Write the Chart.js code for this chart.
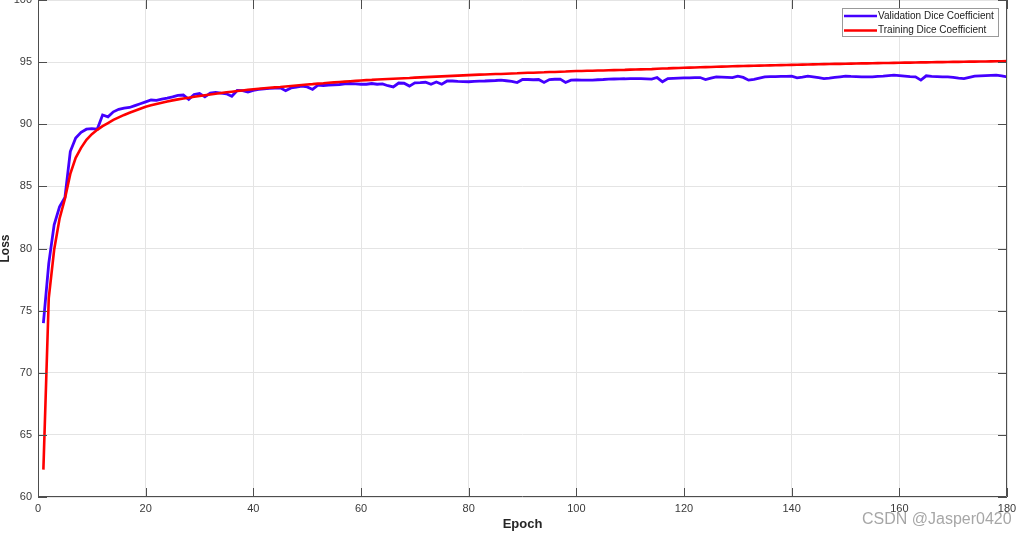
<!DOCTYPE html>
<html>
<head>
<meta charset="utf-8">
<title>Dice Coefficient</title>
<script src="https://cdn.jsdelivr.net/npm/chart.js@4.4.1/dist/chart.umd.min.js"></script>
<style>
  html, body { margin: 0; padding: 0; background: #fff; }
  #wrap { width: 1024px; height: 535px; }
</style>
</head>
<body>
<div id="wrap"><canvas id="diceChart" width="1024" height="535"></canvas></div>
<script>
// Epochs 1..180
const epochs = Array.from({ length: 180 }, (_, i) => i + 1);

// Validation Dice Coefficient (blue)
const validationDice = [
  74.0, 78.8, 81.9, 83.35, 84.1, 87.8, 88.9, 89.35, 89.6, 89.65,
  89.6, 90.75, 90.6, 91.0, 91.2, 91.3, 91.35, 91.5, 91.65, 91.8,
  91.95, 91.92, 92.02, 92.1, 92.2, 92.32, 92.35, 92.0, 92.4, 92.48,
  92.2, 92.5, 92.56, 92.5, 92.45, 92.25, 92.72, 92.7, 92.6, 92.72,
  92.8, 92.85, 92.88, 92.9, 92.93, 92.7, 92.92, 92.98, 93.07, 93.0,
  92.8, 93.15, 93.12, 93.15, 93.18, 93.2, 93.25, 93.28, 93.25, 93.22,
  93.22, 93.28, 93.22, 93.25, 93.1, 93.0, 93.32, 93.3, 93.07, 93.33,
  93.35, 93.38, 93.22, 93.4, 93.22, 93.48, 93.48, 93.45, 93.43, 93.42,
  93.45, 93.47, 93.48, 93.5, 93.52, 93.55, 93.5, 93.45, 93.36, 93.6,
  93.6, 93.58, 93.6, 93.36, 93.6, 93.62, 93.63, 93.36, 93.55, 93.56,
  93.55, 93.55, 93.55, 93.58, 93.6, 93.63, 93.64, 93.65, 93.66, 93.68,
  93.68, 93.67, 93.65, 93.63, 93.76, 93.42, 93.68, 93.7, 93.72, 93.73,
  93.74, 93.75, 93.76, 93.6, 93.72, 93.81, 93.8, 93.78, 93.76, 93.87,
  93.77, 93.55, 93.62, 93.72, 93.81, 93.83, 93.84, 93.85, 93.86, 93.87,
  93.74, 93.8, 93.87, 93.82, 93.75, 93.68, 93.72, 93.77, 93.82, 93.87,
  93.85, 93.84, 93.82, 93.81, 93.81, 93.85, 93.88, 93.92, 93.95, 93.92,
  93.88, 93.84, 93.81, 93.55, 93.9, 93.86, 93.84, 93.82, 93.81, 93.78,
  93.72, 93.68, 93.78, 93.87, 93.9, 93.92, 93.94, 93.95, 93.9, 93.81
];

// Training Dice Coefficient (red)
const trainingDice = [
  62.2, 76.0, 79.9, 82.4, 84.0, 86.0, 87.3, 88.1, 88.75, 89.2,
  89.55, 89.85, 90.1, 90.35, 90.55, 90.75, 90.92, 91.08, 91.25, 91.4,
  91.52, 91.63, 91.73, 91.83, 91.92, 92.0, 92.07, 92.14, 92.21, 92.28,
  92.34, 92.4, 92.46, 92.52, 92.57, 92.62, 92.67, 92.72, 92.77, 92.82,
  92.86, 92.9, 92.94, 92.97, 93.0, 93.04, 93.08, 93.12, 93.16, 93.2,
  93.23, 93.27, 93.3, 93.34, 93.37, 93.4, 93.43, 93.46, 93.49, 93.52,
  93.55, 93.57, 93.6, 93.62, 93.64, 93.66, 93.68, 93.7, 93.72, 93.75,
  93.77, 93.79, 93.81, 93.83, 93.85, 93.87, 93.89, 93.91, 93.93, 93.95,
  93.97, 93.99, 94.0, 94.02, 94.04, 94.05, 94.07, 94.09, 94.1, 94.12,
  94.14, 94.15, 94.17, 94.18, 94.2, 94.21, 94.23, 94.24, 94.26, 94.28,
  94.29, 94.3, 94.31, 94.32, 94.33, 94.35, 94.36, 94.37, 94.38, 94.4,
  94.41, 94.42, 94.43, 94.44, 94.47, 94.49, 94.5, 94.52, 94.53, 94.55,
  94.56, 94.57, 94.59, 94.6, 94.61, 94.63, 94.64, 94.65, 94.67, 94.68,
  94.69, 94.7, 94.71, 94.72, 94.73, 94.74, 94.75, 94.76, 94.77, 94.78,
  94.79, 94.8, 94.81, 94.82, 94.83, 94.84, 94.85, 94.86, 94.86, 94.87,
  94.88, 94.89, 94.9, 94.9, 94.91, 94.92, 94.93, 94.93, 94.94, 94.95,
  94.96, 94.96, 94.97, 94.98, 94.98, 94.99, 95.0, 95.0, 95.01, 95.02,
  95.02, 95.03, 95.04, 95.04, 95.05, 95.05, 95.06, 95.07, 95.07, 95.08
];

const seriesLabels = ['Validation Dice Coefficient', 'Training Dice Coefficient'];
const seriesColors = ['#4400ff', '#ff0000'];

const xTicks = [0, 20, 40, 60, 80, 100, 120, 140, 160, 180];
const yTicks = [60, 65, 70, 75, 80, 85, 90, 95, 100];

const axisColor = '#4d4d4d';
const gridColor = '#e4e4e4';
const textColor = '#3a3a3a';

// matlab style axes (left, bottom, right) with inward ticks
const boxPlugin = {
  id: 'matlabBox',
  afterDatasetsDraw(chart) {
    const { ctx, chartArea: a, scales } = chart;
    const len = 9;
    const l = a.left + 0.5, r = a.right - 0.5, b = a.bottom - 0.5;
    ctx.save();
    ctx.strokeStyle = axisColor;
    ctx.lineWidth = 1;
    ctx.beginPath();
    ctx.moveTo(l, a.top);
    ctx.lineTo(l, b);
    ctx.lineTo(r, b);
    ctx.lineTo(r, a.top);
    xTicks.forEach(v => {
      const x = Math.round(scales.x.getPixelForValue(v)) + 0.5;
      ctx.moveTo(x, a.bottom);
      ctx.lineTo(x, a.bottom - len);
      ctx.moveTo(x, a.top);
      ctx.lineTo(x, a.top + len);
    });
    yTicks.forEach(v => {
      const y = Math.round(scales.y.getPixelForValue(v)) + 0.5;
      ctx.moveTo(a.left, y);
      ctx.lineTo(a.left + len, y);
      ctx.moveTo(a.right, y);
      ctx.lineTo(a.right - len, y);
    });
    ctx.stroke();
    ctx.restore();
  },
  afterDraw(chart) {
    const { ctx } = chart;
    ctx.save();
    // legend box
    const bx = 842.5, by = 8.5, bw = 156, bh = 28;
    ctx.fillStyle = '#fff';
    ctx.fillRect(bx, by, bw, bh);
    ctx.strokeStyle = '#9a9a9a';
    ctx.lineWidth = 1;
    ctx.strokeRect(bx, by, bw, bh);
    ctx.font = '10px "Liberation Sans", Arial, sans-serif';
    ctx.textBaseline = 'middle';
    chart.data.datasets.forEach((ds, i) => {
      const y = 16 + i * 14.5;
      ctx.strokeStyle = ds.borderColor;
      ctx.lineWidth = 2.5;
      ctx.beginPath();
      ctx.moveTo(844, y);
      ctx.lineTo(877, y);
      ctx.stroke();
      ctx.fillStyle = '#1a1a1a';
      ctx.fillText(ds.label, 878, y);
    });
    // watermark
    ctx.font = '16px "Liberation Sans", Arial, sans-serif';
    ctx.textBaseline = 'alphabetic';
    ctx.fillStyle = 'rgba(150,150,150,0.85)';
    ctx.fillText('CSDN @Jasper0420', 862, 524);
    ctx.restore();
  }
};

new Chart(document.getElementById('diceChart'), {
  type: 'line',
  data: {
    labels: epochs,
    datasets: [
      {
        label: seriesLabels[0],
        data: epochs.map((e, i) => ({ x: e, y: validationDice[i] })),
        borderColor: seriesColors[0],
        borderWidth: 2.8,
        pointRadius: 0,
        tension: 0,
        order: 1,
      },
      {
        label: seriesLabels[1],
        data: epochs.map((e, i) => ({ x: e, y: trainingDice[i] })),
        borderColor: seriesColors[1],
        borderWidth: 2.6,
        pointRadius: 0,
        tension: 0,
        order: 0,
      }
    ]
  },
  plugins: [boxPlugin],
  options: {
    responsive: false,
    animation: false,
    devicePixelRatio: 1,
    layout: { padding: { top: 0, right: 17, bottom: 0, left: 0 } },
    plugins: {
      legend: { display: false },
      tooltip: { enabled: false }
    },
    scales: {
      x: {
        type: 'linear',
        min: 0,
        max: 180,
        afterBuildTicks: s => { s.ticks = xTicks.map(v => ({ value: v })); },
        afterFit: s => { s.height = 38; s.paddingLeft = 0; s.paddingRight = 0; },
        ticks: {
          color: textColor,
          font: { family: '"Liberation Sans", Arial, sans-serif', size: 11 },
          padding: 5,
          maxRotation: 0,
        },
        grid: { color: gridColor, drawTicks: false },
        border: { display: false },
        title: {
          display: true,
          text: 'Epoch',
          color: '#262626',
          font: { family: '"Liberation Sans", Arial, sans-serif', size: 13, weight: 'bold', lineHeight: 1.2 },
          padding: { top: 0, bottom: 3 },
        }
      },
      y: {
        min: 60,
        max: 100,
        afterBuildTicks: s => { s.ticks = yTicks.map(v => ({ value: v })); },
        afterFit: s => { s.width = 38; s.paddingTop = 0; s.paddingBottom = 0; },
        ticks: {
          color: textColor,
          font: { family: '"Liberation Sans", Arial, sans-serif', size: 11 },
          padding: 6,
        },
        grid: { color: gridColor, drawTicks: false },
        border: { display: false },
        title: {
          display: true,
          text: 'Loss',
          color: '#262626',
          font: { family: '"Liberation Sans", Arial, sans-serif', size: 12, weight: 'bold', lineHeight: 1 },
          padding: { top: 0, bottom: 0 },
        }
      }
    }
  }
});
</script>
</body>
</html>
